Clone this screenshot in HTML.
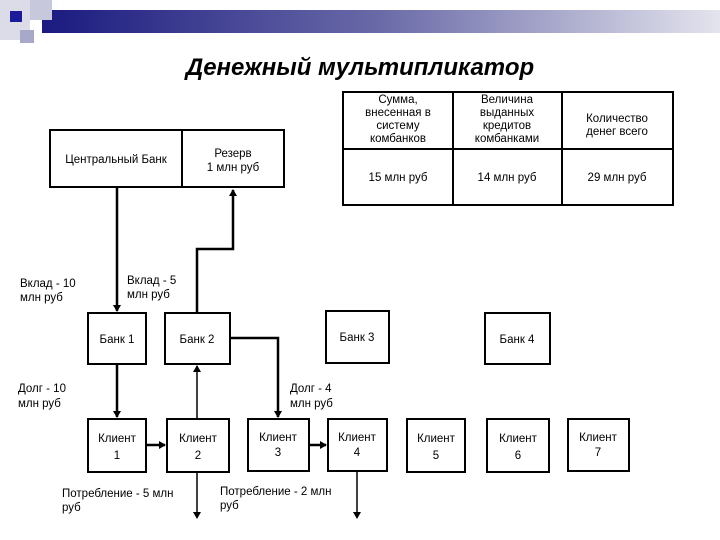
<!DOCTYPE html>
<html><head><meta charset="utf-8"><style>
html,body{margin:0;padding:0;background:#fff}
svg{display:block}
text{font-family:"Liberation Sans","DejaVu Sans",sans-serif;font-size:11.5px;fill:#000}
</style></head><body>
<svg width="720" height="540" viewBox="0 0 720 540" xmlns="http://www.w3.org/2000/svg">
<defs>
<linearGradient id="g" x1="0" x2="1"><stop offset="0" stop-color="#1a1a80"/><stop offset="0.5" stop-color="#6a6aa8"/><stop offset="1" stop-color="#e4e4ee"/></linearGradient>
<marker id="a" markerWidth="8" markerHeight="8" refX="6" refY="4" orient="auto" markerUnits="userSpaceOnUse"><path d="M0,0 L7,4 L0,8 z" fill="#000"/></marker>
</defs>
<rect x="42" y="10" width="678" height="23" fill="url(#g)"/>
<rect x="0" y="0" width="30" height="40" fill="#dcdce8"/>
<rect x="30" y="0" width="22" height="20" fill="#c8c8dc"/>
<rect x="20" y="30" width="14" height="13" fill="#a8a8c8"/>
<rect x="10" y="11" width="12" height="11" fill="#1a1a9a"/>
<text x="360" y="75" text-anchor="middle" style="font-size:24px;font-weight:bold;font-style:italic">Денежный мультипликатор</text>

<g fill="none" stroke="#000" stroke-width="2">
<rect x="50" y="130" width="234" height="57"/>
<line x1="182" y1="130" x2="182" y2="187"/>
<rect x="343" y="92" width="330" height="113"/>
<line x1="343" y1="149" x2="673" y2="149"/>
<line x1="453" y1="92" x2="453" y2="205"/>
<line x1="562" y1="92" x2="562" y2="205"/>
<rect x="88" y="313" width="58" height="51"/>
<rect x="165" y="313" width="65" height="51"/>
<rect x="326" y="311" width="63" height="52"/>
<rect x="485" y="313" width="65" height="51"/>
<rect x="88" y="419" width="58" height="53"/>
<rect x="167" y="419" width="62" height="53"/>
<rect x="248" y="419" width="61" height="52"/>
<rect x="328" y="419" width="59" height="52"/>
<rect x="407" y="419" width="58" height="53"/>
<rect x="487" y="419" width="62" height="53"/>
<rect x="568" y="419" width="61" height="52"/>
</g>
<g fill="none" stroke="#000" stroke-width="2.5">
<line x1="117" y1="187" x2="117" y2="311" marker-end="url(#a)"/>
<polyline points="197,313 197,249 233,249 233,190" marker-end="url(#a)"/>
<line x1="117" y1="364" x2="117" y2="417" marker-end="url(#a)"/>
<line x1="197" y1="419" x2="197" y2="366" marker-end="url(#a)" stroke-width="1.5"/>
<polyline points="230,338 278,338 278,417" marker-end="url(#a)"/>
<line x1="146" y1="445" x2="165" y2="445" marker-end="url(#a)"/>
<line x1="309" y1="445" x2="326" y2="445" marker-end="url(#a)"/>
<line x1="197" y1="472" x2="197" y2="518" marker-end="url(#a)" stroke-width="1.5"/>
<line x1="357" y1="471" x2="357" y2="518" marker-end="url(#a)" stroke-width="1.5"/>
</g>
<g text-anchor="middle">
<text x="116" y="163">Центральный Банк</text>
<text x="233" y="157">Резерв</text><text x="233" y="171">1 млн руб</text>
<text x="398" y="103">Сумма,</text><text x="398" y="116">внесенная в</text><text x="398" y="129">систему</text><text x="398" y="142">комбанков</text>
<text x="507" y="103">Величина</text><text x="507" y="116">выданных</text><text x="507" y="129">кредитов</text><text x="507" y="142">комбанками</text>
<text x="617" y="122">Количество</text><text x="617" y="135">денег всего</text>
<text x="398" y="181">15 млн руб</text><text x="507" y="181">14 млн руб</text><text x="617" y="181">29 млн руб</text>
<text x="117" y="343">Банк 1</text><text x="197" y="343">Банк 2</text><text x="357" y="341">Банк 3</text><text x="517" y="343">Банк 4</text>
<text x="117" y="442">Клиент</text><text x="117" y="459">1</text>
<text x="198" y="442">Клиент</text><text x="198" y="459">2</text>
<text x="278" y="441">Клиент</text><text x="278" y="456">3</text>
<text x="357" y="441">Клиент</text><text x="357" y="456">4</text>
<text x="436" y="442">Клиент</text><text x="436" y="459">5</text>
<text x="518" y="442">Клиент</text><text x="518" y="459">6</text>
<text x="598" y="441">Клиент</text><text x="598" y="456">7</text>
</g>
<text x="20" y="287">Вклад - 10</text><text x="20" y="301">млн руб</text>
<text x="127" y="284">Вклад - 5</text><text x="127" y="298">млн руб</text>
<text x="18" y="392">Долг - 10</text><text x="18" y="407">млн руб</text>
<text x="290" y="392">Долг - 4</text><text x="290" y="407">млн руб</text>
<text x="62" y="497">Потребление - 5 млн</text><text x="62" y="511">руб</text>
<text x="220" y="495">Потребление - 2 млн</text><text x="220" y="509">руб</text>
</svg>
</body></html>
